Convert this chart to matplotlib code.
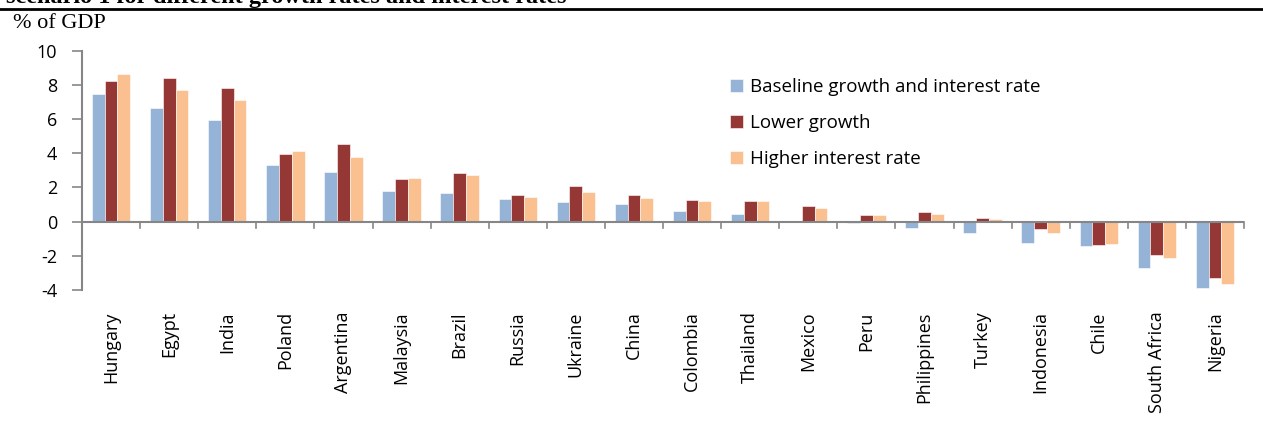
import numpy as np
import matplotlib.pyplot as plt

plt.rcParams['axes.unicode_minus'] = False

countries = ['Hungary', 'Egypt', 'India', 'Poland', 'Argentina', 'Malaysia', 'Brazil',
             'Russia', 'Ukraine', 'China', 'Colombia', 'Thailand', 'Mexico', 'Peru',
             'Philippines', 'Turkey', 'Indonesia', 'Chile', 'South Africa', 'Nigeria']
baseline = [7.47, 6.63, 5.95, 3.30, 2.89, 1.81, 1.68, 1.33, 1.17, 1.04,
            0.61, 0.45, 0.0, -0.10, -0.39, -0.64, -1.23, -1.42, -2.71, -3.90]
lower_growth = [8.23, 8.42, 7.84, 3.96, 4.52, 2.50, 2.83, 1.54, 2.09, 1.56,
                1.27, 1.19, 0.92, 0.39, 0.55, 0.22, -0.43, -1.38, -1.95, -3.31]
higher_rate = [8.66, 7.70, 7.12, 4.15, 3.80, 2.56, 2.73, 1.44, 1.74, 1.39,
               1.23, 1.21, 0.82, 0.39, 0.45, 0.16, -0.64, -1.32, -2.14, -3.63]
series_names = ['Baseline growth and interest rate', 'Lower growth', 'Higher interest rate']
colors = ['#95B3D7', '#953735', '#FAC090']

sans = ['Open Sans', 'DejaVu Sans']
serif = ['Liberation Serif', 'DejaVu Serif']
axis_grey = '#868686'

fig = plt.figure(figsize=(12.63, 4.30), dpi=100)
ax = fig.add_axes([82 / 1263, 1 - 290 / 430, (1244 - 82) / 1263, (290 - 50.7) / 430])

x = np.arange(len(countries))
w = 0.22
for i, (vals, name, c) in enumerate(zip([baseline, lower_growth, higher_rate], series_names, colors)):
    ax.bar(x + (i - 1) * w, vals, width=w, color=c, edgecolor='white', linewidth=0.4,
           label=name, zorder=2)

ax.set_xlim(-0.5, len(countries) - 0.5)
ax.set_ylim(-4, 10)
ax.set_yticks(range(-4, 11, 2))
ax.tick_params(axis='y', direction='out', length=7, width=1.2, color=axis_grey,
               labelsize=13, pad=11)
for lab in ax.get_yticklabels():
    lab.set_fontfamily(sans)

# category axis drawn at zero with ticks between categories
for s in ['top', 'right', 'bottom']:
    ax.spines[s].set_visible(False)
ax.spines['left'].set_color(axis_grey)
ax.spines['left'].set_linewidth(1.5)
ax.axhline(0, color=axis_grey, linewidth=1.5, zorder=3)
ax.set_xticks([])
for b in np.arange(0.5, len(countries), 1.0):
    ax.plot([b, b], [0, -0.35], color=axis_grey, linewidth=1.2, clip_on=False, zorder=3)
for xi, name in zip(x, countries):
    ax.text(xi, -5.25, name, rotation=90, ha='center', va='top', fontsize=13,
            family=sans, clip_on=False)

leg = ax.legend(loc='upper left', bbox_to_anchor=(0.543, 0.955), frameon=False,
                prop={'family': sans, 'size': 13.5}, handlelength=0.7, handleheight=0.7,
                handletextpad=0.35, labelspacing=0.95)

fig.text(13 / 1263, 1 - 14 / 430, '% of GDP', family=serif, fontsize=16, va='top', ha='left')
fig.text(6 / 1263, 1 - 3 / 430, 'scenario 1 for different growth rates and interest rates',
         family=serif, fontsize=17.5, fontweight='bold', va='baseline', ha='left')
fig.add_artist(plt.Line2D([0, 1], [1 - 9 / 430, 1 - 9 / 430], color='black', linewidth=2,
                          transform=fig.transFigure))

fig.savefig('out.png', dpi=100)
